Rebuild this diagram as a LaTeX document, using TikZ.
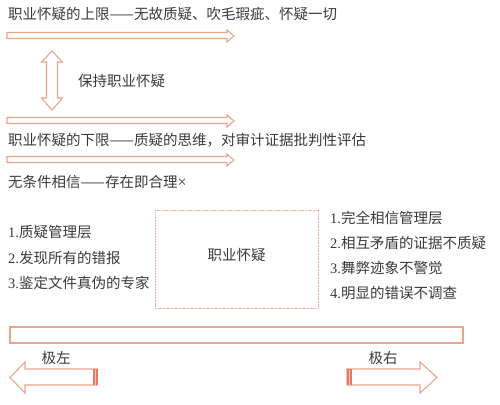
\documentclass[tikz,border=0pt]{standalone}
\usepackage{fontspec}
\newfontfamily\cjk{Noto Sans CJK SC}
\newfontfamily\lat{Liberation Serif}
\definecolor{salmon}{HTML}{EBA58C}
\definecolor{stripe}{HTML}{E57A60}
\definecolor{txt}{HTML}{3A3A3A}
\begin{document}
\begin{tikzpicture}[x=1pt,y=-1pt,
  lbl/.style={font=\cjk\fontsize{14.5}{16}\selectfont, text=txt, inner sep=0pt, anchor=west},
  hollow/.style={draw=salmon, line width=1.1pt, line join=miter, fill=white},
  stripes/.style={fill=stripe, draw=none}]
\useasboundingbox (0,0) rectangle (500,404);

% top line text
\node[lbl] (t1) at (8,14) {职业怀疑的上限——无故质疑、吹毛瑕疵、怀疑一切};
% arrow 1
\draw[hollow] (7,32.5) -- (227,32.5) -- (227,30) -- (234,36) -- (227,42) -- (227,38.5) -- (7,38.5) -- cycle;

% double vertical arrow
\draw[hollow] (52,51) -- (62.5,62) -- (57.5,62) -- (57.5,98) -- (62.5,98) -- (52,110)
  -- (41.5,98) -- (46.5,98) -- (46.5,62) -- (41.5,62) -- cycle;
\node[lbl] (keep) at (78,81) {保持职业怀疑};

% arrow 2
\draw[hollow] (7,117.5) -- (227,117.5) -- (227,115) -- (234,121) -- (227,127) -- (227,123.5) -- (7,123.5) -- cycle;
\node[lbl] (t2) at (8,140) {职业怀疑的下限——质疑的思维，对审计证据批判性评估};

% arrow 3
\draw[hollow] (7,156.5) -- (227,156.5) -- (227,154) -- (234,160) -- (227,166) -- (227,162.5) -- (7,162.5) -- cycle;
\node[lbl] (t3) at (8,182) {无条件相信——存在即合理{\lat\fontsize{16}{16}\selectfont ×}};

% left list
\node[lbl] (l1) at (8,232) {{\lat 1.}质疑管理层};
\node[lbl] (l2) at (8,258) {{\lat 2.}发现所有的错报};
\node[lbl] (l3) at (8,283) {{\lat 3.}鉴定文件真伪的专家};

% central box
\draw[draw=salmon!80, line width=0.6pt, dash pattern=on 1.2pt off 0.4pt] (155,210) rectangle (318,308);
\node[lbl, anchor=center] (box) at (236.5,255) {职业怀疑};

% right list
\node[lbl] (r1) at (330,218) {{\lat 1.}完全相信管理层};
\node[lbl] (r2) at (330,243) {{\lat 2.}相互矛盾的证据不质疑};
\node[lbl] (r3) at (330,268) {{\lat 3.}舞弊迹象不警觉};
\node[lbl] (r4) at (330,293) {{\lat 4.}明显的错误不调查};

% long bar
\draw[draw=salmon, line width=1.1pt] (10,327) rectangle (463,343);

% left arrow
\draw[hollow] (97,369) -- (25,369) -- (25,362) -- (10,377.5) -- (25,393) -- (25,385) -- (97,385) -- cycle;
\fill[stripes] (92.5,369) rectangle (97.5,385);
\draw[white!60!stripe, line width=0.6pt] (95,369.5) -- (95,384.5);
\node[lbl, anchor=center] (left) at (56,358) {极左};

% right arrow
\draw[hollow] (347,369) -- (420,369) -- (420,362) -- (437,377.5) -- (420,393) -- (420,385) -- (347,385) -- cycle;
\fill[stripes] (346.5,369) rectangle (351.5,385);
\draw[white!60!stripe, line width=0.6pt] (349.5,369.5) -- (349.5,384.5);
\node[lbl, anchor=center] (right) at (383,358) {极右};
\end{tikzpicture}
\end{document}
